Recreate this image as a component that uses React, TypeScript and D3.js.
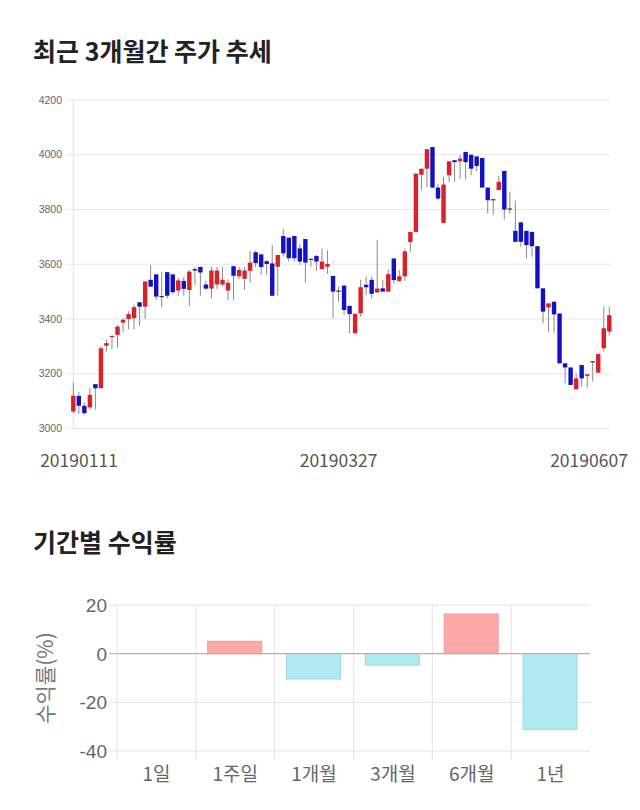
import React from "react";
import * as d3 from "d3";

// [open, high, low, close]
const candles: [number, number, number, number][] = [
  [3062, 3168, 3056, 3120], [3119, 3133, 3054, 3083], [3083, 3095, 3050, 3056], [3077, 3147, 3070, 3123],
  [3162, 3162, 3070, 3147], [3147, 3300, 3147, 3293], [3302, 3324, 3281, 3312], [3334, 3340, 3290, 3338],
  [3342, 3378, 3295, 3372], [3387, 3403, 3353, 3397], [3400, 3428, 3363, 3418], [3403, 3452, 3363, 3443],
  [3461, 3461, 3375, 3445], [3445, 3537, 3400, 3537], [3543, 3597, 3518, 3518], [3563, 3563, 3470, 3482],
  [3482, 3573, 3443, 3482], [3571, 3571, 3475, 3485], [3563, 3563, 3490, 3498], [3504, 3550, 3485, 3541],
  [3539, 3553, 3485, 3510], [3506, 3579, 3447, 3573], [3582, 3590, 3524, 3577], [3590, 3593, 3485, 3570],
  [3526, 3540, 3505, 3511], [3511, 3590, 3475, 3577], [3526, 3590, 3510, 3577], [3526, 3590, 3520, 3543],
  [3504, 3545, 3470, 3532], [3593, 3593, 3470, 3558], [3556, 3590, 3545, 3579], [3547, 3590, 3506, 3577],
  [3576, 3648, 3533, 3606], [3644, 3650, 3590, 3604], [3636, 3636, 3561, 3590], [3611, 3615, 3561, 3601],
  [3603, 3670, 3485, 3485], [3591, 3634, 3485, 3634], [3703, 3728, 3628, 3640], [3697, 3697, 3610, 3622],
  [3703, 3703, 3610, 3622], [3658, 3675, 3598, 3610], [3692, 3692, 3533, 3606], [3618, 3622, 3591, 3618],
  [3630, 3634, 3576, 3610], [3582, 3658, 3582, 3610], [3591, 3650, 3565, 3601], [3557, 3557, 3403, 3500],
  [3502, 3518, 3464, 3502], [3522, 3522, 3415, 3433], [3448, 3448, 3348, 3418], [3348, 3419, 3348, 3419],
  [3421, 3543, 3409, 3516], [3525, 3555, 3488, 3516], [3543, 3555, 3475, 3492], [3497, 3689, 3495, 3511],
  [3512, 3543, 3500, 3500], [3500, 3580, 3500, 3564], [3621, 3621, 3530, 3542], [3539, 3578, 3535, 3556],
  [3556, 3657, 3539, 3647], [3681, 3718, 3645, 3718], [3718, 3931, 3718, 3931], [3927, 3949, 3870, 3949],
  [3949, 4020, 3882, 4020], [4028, 4028, 3880, 3880], [3880, 3894, 3834, 3840], [3751, 3919, 3751, 3891],
  [3925, 3976, 3900, 3976], [3980, 3980, 3900, 3973], [3976, 3998, 3913, 3986], [4010, 4010, 3910, 3973],
  [4000, 4000, 3925, 3949], [3994, 3994, 3940, 3959], [3988, 3988, 3880, 3880], [3880, 3880, 3785, 3834],
  [3836, 3836, 3780, 3836], [3871, 3922, 3871, 3901], [3941, 3941, 3764, 3800], [3802, 3864, 3785, 3802],
  [3722, 3832, 3682, 3682], [3753, 3753, 3664, 3682], [3722, 3722, 3621, 3670], [3718, 3718, 3627, 3666],
  [3666, 3666, 3512, 3512], [3512, 3512, 3384, 3427], [3442, 3457, 3354, 3457], [3463, 3463, 3350, 3417],
  [3420, 3420, 3238, 3238], [3238, 3238, 3165, 3223], [3223, 3223, 3159, 3159], [3143, 3201, 3143, 3183],
  [3232, 3232, 3153, 3183], [3192, 3198, 3150, 3198], [3244, 3244, 3171, 3244], [3204, 3275, 3204, 3272],
  [3293, 3445, 3281, 3366], [3354, 3445, 3340, 3414],
];

const priceTicks = [3000, 3200, 3400, 3600, 3800, 4000, 4200];
const dateTickIndex = [0, 48, 97];
const dateTickLabels = ["20190111", "20190327", "20190607"];

const periods = ["1일", "1주일", "1개월", "3개월", "6개월", "1년"];
const returns = [0, 5.1, -10.4, -4.7, 16.3, -31.2];
const returnTicks = [-40, -20, 0, 20];

const KR = "'Noto Sans CJK KR', 'Noto Sans', sans-serif";
const SANS = "'Liberation Sans', Arial, sans-serif";

export default function App() {
  const x = d3.scaleLinear().domain([0, candles.length - 1]).range([73.3, 609.3]);
  const y = d3.scaleLinear().domain([3000, 4200]).range([428.5, 100]);
  const bodyW = 4.4;

  const xb = d3.scaleBand<string>().domain(periods).range([117, 590]).paddingInner(0).paddingOuter(0);
  const yb = d3.scaleLinear().domain([-40, 20]).range([751, 605]);
  const bw = xb.bandwidth();

  return (
    <svg width={640} height={810} style={{ position: "absolute", left: 0, top: 0, background: "#fff" }}>
      <text x={33} y={61} fontFamily={KR} fontWeight="bold" fontSize={25} fill="#222">
        최근 3개월간 주가 추세
      </text>

      {/* price grid */}
      {priceTicks.map((t) => (
        <g key={t}>
          <line x1={66} x2={610} y1={y(t)} y2={y(t)} stroke="#e6e6e6" strokeWidth={1} />
          <text x={62} y={y(t)} dy="0.35em" textAnchor="end" fontFamily={SANS} fontSize={10.5} fill="#666">
            {t}
          </text>
        </g>
      ))}
      <line x1={73.3} x2={73.3} y1={y(4200)} y2={y(3000)} stroke="#e0e0e0" strokeWidth={1} />

      {/* candles */}
      {candles.map(([o, h, l, c], i) => {
        const up = c > o;
        const flat = c === o;
        const color = flat ? "#333" : up ? "#d8212a" : "#1212c4";
        const top = y(Math.max(o, c));
        const bot = y(Math.min(o, c));
        return (
          <g key={i}>
            <line x1={x(i)} x2={x(i)} y1={y(h)} y2={y(l)} stroke="#8a8a8a" strokeWidth={1} />
            <rect
              x={x(i) - bodyW / 2}
              y={flat ? top - 0.5 : top}
              width={bodyW}
              height={flat ? 1.2 : Math.max(1.2, bot - top)}
              fill={color}
            />
          </g>
        );
      })}

      {/* date ticks */}
      {dateTickIndex.map((idx, k) => {
        const half = 39;
        const cx = Math.min(628 - half, Math.max(40 + half, x(idx)));
        return (
          <text key={idx} x={cx} y={467} textAnchor="middle" fontFamily={KR} fontSize={17.5} fill="#555">
            {dateTickLabels[k]}
          </text>
        );
      })}

      <text x={33} y={552} fontFamily={KR} fontWeight="bold" fontSize={25} fill="#222">
        기간별 수익률
      </text>

      {/* returns chart grid */}
      {returnTicks.map((t) => (
        <g key={t}>
          <line
            x1={109}
            x2={590}
            y1={yb(t)}
            y2={yb(t)}
            stroke={t === 0 ? "#b0b0b0" : "#e3e3e3"}
            strokeWidth={1}
          />
          <text x={107} y={yb(t)} dy="0.36em" textAnchor="end" fontFamily={SANS} fontSize={19} fill="#666">
            {t}
          </text>
        </g>
      ))}
      {periods.map((p) => (
        <line key={p} x1={xb(p)!} x2={xb(p)!} y1={yb(20)} y2={760} stroke="#e3e3e3" strokeWidth={1} />
      ))}

      {/* bars */}
      {periods.map((p, i) => {
        const v = returns[i];
        if (v === 0) return null;
        const pos = v > 0;
        return (
          <rect
            key={p}
            x={xb(p)! + bw * 0.15}
            y={yb(Math.max(0, v))}
            width={bw * 0.685}
            height={Math.abs(yb(v) - yb(0))}
            fill={pos ? "#ffa8a8" : "#b0eaf3"}
            stroke={pos ? "#f09a9a" : "#9dd8e2"}
            strokeWidth={1}
          />
        );
      })}
      <line x1={117} x2={590} y1={yb(0)} y2={yb(0)} stroke="#b0b0b0" strokeWidth={1} />

      {periods.map((p) => (
        <text
          key={p}
          x={xb(p)! + bw / 2}
          y={781}
          textAnchor="middle"
          fontFamily={KR}
          fontSize={19}
          fill="#666"
        >
          {p}
        </text>
      ))}

      <text
        transform={`translate(53, ${(yb(20) + yb(-40)) / 2}) rotate(-90)`}
        textAnchor="middle"
        fontFamily={KR}
        fontSize={21}
        fill="#777"
      >
        수익률(%)
      </text>
    </svg>
  );
}
